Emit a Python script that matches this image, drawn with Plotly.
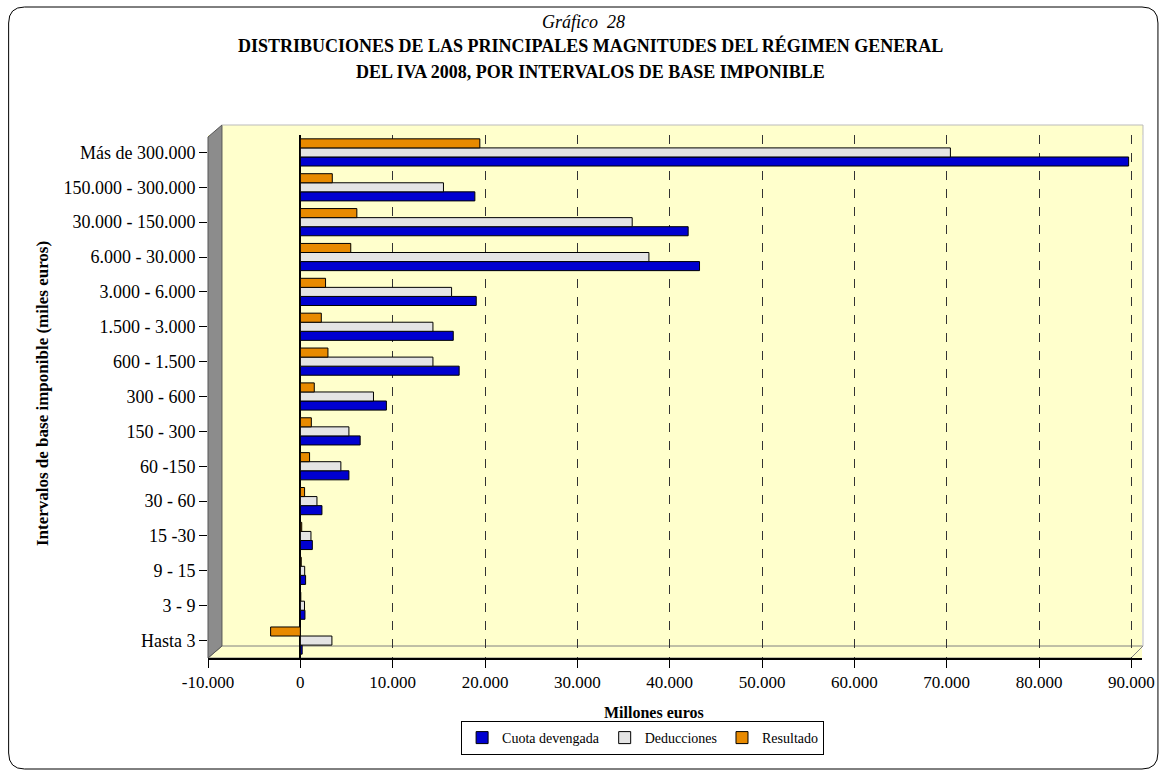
import plotly.graph_objects as go

categories = ["Hasta 3", "3 - 9", "9 - 15", "15 -30", "30 - 60", "60 -150", "150 - 300",
              "300 - 600", "600 - 1.500", "1.500 - 3.000", "3.000 - 6.000", "6.000 - 30.000",
              "30.000 - 150.000", "150.000 - 300.000", "Más de 300.000"]
cuota_devengada = [200, 500, 570, 1300, 2340, 5260, 6480, 9320, 17200, 16560, 19050, 43230, 42000, 18900, 89700]
deducciones = [3420, 450, 470, 1150, 1800, 4390, 5260, 7920, 14360, 14360, 16380, 37750, 35940, 15500, 70400]
resultado = [-3220, 50, 100, 150, 460, 1000, 1190, 1510, 2990, 2270, 2730, 5460, 6120, 3460, 19440]

xtick_vals = [-10000, 0, 10000, 20000, 30000, 40000, 50000, 60000, 70000, 80000, 90000]
xtick_text = ["-10.000", "0", "10.000", "20.000", "30.000", "40.000", "50.000", "60.000",
              "70.000", "80.000", "90.000"]

W, H = 1167, 771
ML, MR, MT, MB = 208, 22, 135, 113
PW, PH = W - ML - MR, H - MT - MB


def px(x):
    return (x - ML) / PW


def py(y):
    return 1 - (y - MT) / PH


FONT = "Liberation Serif, Times New Roman, serif"

fig = go.Figure()
series = [("Cuota devengada", cuota_devengada, "#0000D0"),
          ("Deducciones", deducciones, "#E4E4E4"),
          ("Resultado", resultado, "#E88A00")]
for name, vals, col in series:
    fig.add_trace(go.Bar(
        y=categories, x=vals, name=name, orientation="h",
        marker=dict(color=col, line=dict(color="#000000", width=1)),
    ))

shapes = []
# back plane strip above plot area
shapes.append(dict(type="rect", xref="paper", yref="paper",
                   x0=px(222), x1=px(1146), y0=py(135), y1=py(125),
                   fillcolor="#FFFFCC", line=dict(width=0), layer="below"))
# left wall
shapes.append(dict(type="path", xref="paper", yref="paper",
                   path=f"M {px(208)} {py(137)} L {px(222)} {py(125)} L {px(222)} {py(646)} L {px(208)} {py(658)} Z",
                   fillcolor="#8C8C8C", line=dict(color="#555555", width=1), layer="above"))
# floor
shapes.append(dict(type="path", xref="paper", yref="paper",
                   path=f"M {px(208)} {py(658)} L {px(222)} {py(646)} L {px(1146)} {py(646)} L {px(1134)} {py(658)} Z",
                   fillcolor="#FFFFCC", line=dict(color="#808080", width=1), layer="below"))
# back edges
shapes.append(dict(type="line", xref="paper", yref="paper",
                   x0=px(222), x1=px(1146), y0=py(125), y1=py(125),
                   line=dict(color="#BBBBBB", width=1)))
shapes.append(dict(type="line", xref="paper", yref="paper",
                   x0=px(1146), x1=px(1146), y0=py(125), y1=py(646),
                   line=dict(color="#BBBBBB", width=1)))
# rounded outer border
x0, x1, y0, y1, r = 8, 1161, 7, 769, 16
path = (f"M {px(x0 + r)} {py(y0)} L {px(x1 - r)} {py(y0)} "
        f"Q {px(x1)} {py(y0)} {px(x1)} {py(y0 + r)} L {px(x1)} {py(y1 - r)} "
        f"Q {px(x1)} {py(y1)} {px(x1 - r)} {py(y1)} L {px(x0 + r)} {py(y1)} "
        f"Q {px(x0)} {py(y1)} {px(x0)} {py(y1 - r)} L {px(x0)} {py(y0 + r)} "
        f"Q {px(x0)} {py(y0)} {px(x0 + r)} {py(y0)} Z")
shapes.append(dict(type="path", xref="paper", yref="paper", path=path,
                   line=dict(color="#000000", width=1)))

annotations = [
    dict(text="<i>Gráfico&nbsp;&nbsp;28</i>", x=px(585), y=py(22), xref="paper", yref="paper",
         showarrow=False, font=dict(family=FONT, size=18, color="#000"), yanchor="middle"),
    dict(text="<b>DISTRIBUCIONES DE LAS PRINCIPALES MAGNITUDES DEL RÉGIMEN GENERAL</b>",
         x=px(592), y=py(46), xref="paper", yref="paper", showarrow=False,
         font=dict(family=FONT, size=18, color="#000"), yanchor="middle"),
    dict(text="<b>DEL IVA 2008, POR INTERVALOS DE BASE IMPONIBLE</b>",
         x=px(592), y=py(72), xref="paper", yref="paper", showarrow=False,
         font=dict(family=FONT, size=18, color="#000"), yanchor="middle"),
    dict(text="<b>Intervalos de base imponible (miles euros)</b>", textangle=-90,
         x=px(30), y=py(394), xref="paper", yref="paper", showarrow=False,
         font=dict(family=FONT, size=17, color="#000")),
    dict(text="<b>Millones euros</b>", x=px(655), y=py(712), xref="paper", yref="paper",
         showarrow=False, font=dict(family=FONT, size=16, color="#000"), yanchor="middle"),
]

fig.update_layout(
    width=W, height=H,
    margin=dict(l=ML, r=MR, t=MT, b=MB),
    paper_bgcolor="#FFFFFF", plot_bgcolor="#FFFFCC",
    barmode="group", bargap=0.22, bargroupgap=0.0,
    font=dict(family=FONT, size=17, color="#000000"),
    shapes=shapes, annotations=annotations,
    legend=dict(orientation="h", x=px(644), xanchor="center", y=py(721), yanchor="top",
                bordercolor="#000000", borderwidth=1, bgcolor="#FFFFFF",
                font=dict(family=FONT, size=14), traceorder="normal",
                itemwidth=30, tracegroupgap=0),
    xaxis=dict(range=[-10000, 91150], tickvals=xtick_vals, ticktext=xtick_text,
               showgrid=True, gridcolor="#333333", griddash="dash", gridwidth=1,
               zeroline=True, zerolinecolor="#000000", zerolinewidth=1.5,
               showline=True, linecolor="#000000", linewidth=1.5,
               ticks="outside", ticklen=8, tickcolor="#000000",
               tickfont=dict(family=FONT, size=17), fixedrange=True),
    yaxis=dict(categoryorder="array", categoryarray=categories, range=[-0.5, 14.5],
               showgrid=False, zeroline=False, showline=False,
               ticks="outside", ticklen=8, tickcolor="#000000",
               tickfont=dict(family=FONT, size=18), fixedrange=True),
)

fig.write_html("out.html", config={"displayModeBar": False},
               post_script="document.body.style.margin='0px';")
